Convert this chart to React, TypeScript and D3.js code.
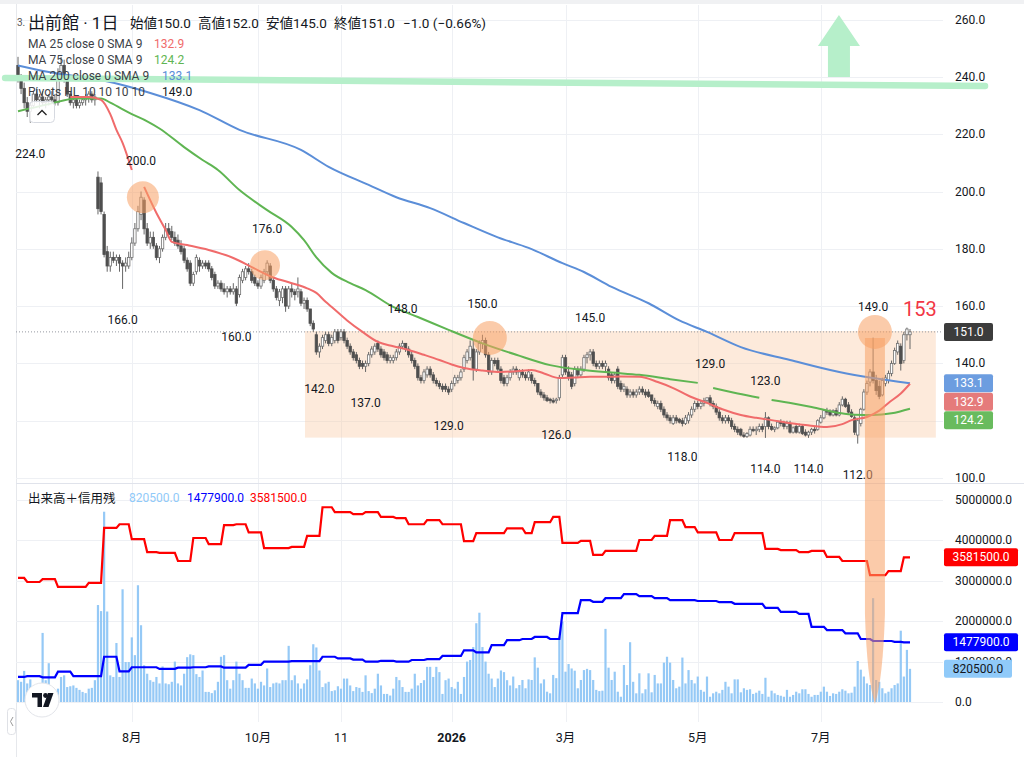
import { useEffect, useRef } from 'react';
import * as d3 from 'd3';

// daily bars: [open, high, low, close]
const candles: number[][] = [
  [244, 247, 238, 240], [240, 241, 234, 236], [236, 238, 229, 231], [231, 233, 226, 228], [228, 231, 224, 230],
  [230, 235, 229, 234], [234, 236, 231, 232], [232, 234, 229, 233], [233, 235, 230, 231], [231, 233, 229, 232],
  [232, 234, 230, 233], [233, 235, 231, 232], [232, 234, 230, 231], [231, 243, 230, 241], [241, 247, 239, 244],
  [244, 246, 238, 239], [239, 240, 233, 234], [234, 235, 230, 231], [231, 233, 229, 232], [232, 233, 229, 230],
  [230, 232, 229, 231], [231, 233, 230, 232], [232, 234, 230, 233], [233, 235, 231, 234], [234, 235, 231, 232],
  [232, 234, 230, 233], [205, 207, 192, 194], [203, 205, 192, 193], [192, 193, 177, 178], [179, 181, 172, 174],
  // 30
  [174, 179, 172, 177], [177, 179, 175, 176], [176, 178, 174, 177], [177, 178, 172, 175], [175, 176, 166, 174],
  [174, 177, 172, 175], [174, 179, 173, 177], [177, 184, 176, 182], [182, 189, 181, 187], [187, 195, 186, 193],
  [192, 200, 190, 198], [197, 198, 185, 187], [187, 189, 181, 182], [182, 186, 180, 184], [184, 186, 180, 181],
  [181, 182, 176, 177], [177, 181, 175, 180], [180, 185, 179, 184], [184, 189, 183, 187], [187, 189, 184, 185],
  [186, 188, 183, 184], [184, 186, 181, 182], [183, 185, 180, 181], [181, 183, 178, 179], [180, 181, 175, 176],
  [176, 177, 172, 173], [175, 176, 167, 168], [168, 172, 167, 171], [172, 178, 171, 177], [176, 177, 172, 174],
  // 60
  [174, 176, 173, 175], [175, 176, 173, 174], [175, 176, 172, 173], [173, 174, 169, 170], [171, 172, 166, 167],
  [167, 169, 166, 168], [168, 169, 165, 166], [166, 168, 164, 165], [165, 167, 163, 166], [166, 167, 164, 165],
  [165, 168, 164, 166], [166, 167, 160, 161], [164, 171, 163, 170], [169, 173, 168, 172], [170, 174, 169, 173],
  [173, 175, 171, 172], [172, 173, 168, 169], [170, 171, 167, 168], [168, 169, 166, 167], [167, 171, 166, 170],
  [169, 173, 168, 172], [172, 176, 171, 175], [174, 175, 168, 169], [169, 170, 165, 166], [166, 167, 162, 163],
  [162, 166, 160, 165], [163, 167, 161, 166], [166, 167, 158, 160], [160, 167, 159, 166], [166, 168, 163, 165],
  // 90
  [165, 166, 162, 164], [165, 170, 163, 166], [165, 166, 160, 161], [161, 163, 159, 162], [162, 163, 158, 159],
  [159, 159, 153, 154], [154, 155, 151, 152], [150, 151, 143, 144], [144, 147, 142, 146], [146, 150, 145, 149],
  [148, 151, 147, 150], [150, 151, 146, 147], [147, 150, 146, 149], [148, 152, 147, 151], [151, 152, 147, 148],
  [149, 152, 148, 151], [151, 152, 147, 148], [148, 149, 145, 146], [146, 147, 143, 144], [144, 145, 141, 142],
  [143, 144, 140, 141], [141, 142, 138, 139], [140, 141, 138, 139], [139, 141, 137, 140], [140, 144, 139, 143],
  [143, 146, 142, 145], [144, 147, 143, 146], [147, 148, 144, 145], [145, 146, 142, 143], [144, 145, 141, 142],
  // 120
  [143, 144, 140, 141], [141, 143, 140, 142], [141, 143, 140, 142], [142, 145, 141, 144], [144, 147, 143, 146],
  [146, 148, 145, 147], [147, 147, 144, 145], [145, 146, 142, 143], [143, 144, 140, 141], [141, 142, 138, 139],
  [139, 140, 134, 135], [135, 136, 133, 134], [134, 138, 133, 137], [136, 139, 135, 138], [138, 139, 135, 136],
  [136, 137, 133, 134], [134, 135, 132, 133], [133, 134, 131, 132], [132, 133, 130, 131], [132, 133, 130, 131],
  [131, 132, 129, 130], [131, 134, 130, 133], [133, 136, 132, 135], [134, 136, 133, 135], [135, 138, 134, 137],
  [138, 143, 137, 142], [141, 145, 140, 144], [142, 148, 141, 146], [145, 148, 134, 138], [138, 145, 137, 144],
  // 150
  [144, 148, 143, 147], [147, 150, 145, 148], [148, 149, 142, 143], [143, 144, 136, 137], [137, 142, 136, 141],
  [141, 142, 139, 140], [141, 142, 137, 138], [138, 139, 133, 134], [135, 136, 132, 133], [133, 136, 132, 135],
  [135, 138, 134, 137], [137, 139, 136, 138], [138, 139, 136, 137], [135, 138, 134, 137], [137, 138, 135, 136],
  [136, 137, 134, 135], [135, 138, 134, 137], [136, 137, 133, 134], [134, 135, 132, 133], [133, 133, 129, 130],
  [130, 131, 128, 129], [129, 130, 127, 128], [128, 129, 126.5, 127], [127.5, 128, 126, 127], [127, 128, 126, 126.5],
  [127, 128, 126, 127.5], [128, 136, 127, 135], [136, 143, 135, 142], [142, 143, 136, 137], [137, 139, 134, 135],
  // 180
  [136, 137, 131, 132], [133, 139, 132, 138], [138, 139, 135, 136], [136, 139, 135, 138], [138, 143, 137, 142],
  [142, 144, 140, 143], [143, 145, 141, 144], [144, 145, 139, 140], [140, 141, 138, 139], [139, 141, 138, 140],
  [140, 141, 138, 139], [139, 141, 137, 140], [138, 139, 134, 135], [136, 137, 133, 134], [134, 137, 133, 136],
  [138, 139, 131, 132], [133, 134, 130, 131], [131, 133, 130, 132], [131, 132, 128, 129], [129, 131, 128, 130],
  [130, 131, 128, 129], [129, 131, 128, 130], [130, 132, 129, 131], [131, 132, 129, 130], [130, 131, 128, 129],
  [130, 131, 128, 128.5], [129, 129, 126, 127], [127, 128, 125, 126], [125, 127, 124, 126], [126, 127, 123, 124],
  // 210
  [124, 125, 121, 122], [122, 123, 120, 121], [121, 122, 119, 120], [119, 122, 118.5, 121], [121, 122, 119, 120],
  [120.5, 121, 119, 119.5], [120, 121, 118, 119], [119, 122, 118.5, 121], [120, 123, 119, 122], [122, 125, 121, 124],
  [124, 127, 123, 126], [126, 127, 124, 125], [125, 127, 124, 126], [126, 128, 125, 127], [127, 128, 126, 128],
  [128, 129, 125, 126], [126, 127, 124, 125], [125, 126, 122, 123], [123, 124, 120, 121], [121, 122, 119, 120],
  [120, 122, 119, 121], [121, 122, 119, 120], [120, 121, 117, 118], [118, 119, 116, 117], [117, 118, 115, 116],
  [117, 117.5, 114.5, 115], [115, 116, 114, 114.5], [114.5, 116, 114, 115.5], [115, 118, 114.5, 117], [117, 118, 116, 116.5],
  // 240
  [116.5, 118, 115, 117], [117, 119, 116, 118], [118, 119, 116, 117], [118, 123, 114, 121], [121, 121.5, 117, 118],
  [118, 119, 116.5, 117], [117, 118, 116, 117.5], [117.5, 120, 117, 119.5], [119.5, 120.5, 118, 119], [119, 120, 117, 118],
  [118, 120, 117, 119], [119, 120, 115.5, 116], [116, 118, 115.5, 117.5], [118, 119, 115.5, 116], [116, 119, 115.5, 118],
  [118, 118.5, 115, 115.5], [116, 117, 114.5, 115], [115, 116.5, 114, 116], [116, 117.5, 115, 117], [117, 118, 115.5, 116.5],
  [117, 120.5, 116.5, 120], [119.5, 122, 119, 121], [121, 124, 120.5, 123.5], [123.5, 124.5, 122, 123], [123, 124, 121.5, 122],
  [122, 124, 121.5, 123.5], [123.5, 124.5, 121.5, 122], [122, 126.5, 121.5, 125.5], [125.5, 128.5, 125, 127.5], [127.5, 128, 124.5, 125],
  // 270
  [125.5, 126.5, 122.5, 123], [123, 124, 121, 121.5], [121, 122, 115, 116], [115, 121, 112, 120], [119, 124.5, 118, 124],
  [124, 131, 123.5, 130], [130, 134, 129, 133], [133.5, 138, 132, 137], [137, 149, 133, 134], [134, 136, 129, 130.5],
  [132, 134, 127.5, 128.5], [129, 135, 128.5, 134], [133, 136, 132, 135], [134, 137.5, 133, 136.5], [136.5, 141, 135.5, 140],
  [140, 145.5, 139.5, 144.5], [144, 148, 143, 147], [146, 147, 137.5, 140], [141, 151, 140, 150], [150, 152.5, 148, 152],
  [150, 152, 145, 151],
];

// daily volume, thousand shares
const volumes = [
  540, 500, 770, 460, 560, 370, 330, 370, 1710, 540,
  960, 290, 200, 330, 620, 660, 370, 390, 410, 350,
  300, 250, 220, 330, 350, 540, 2400, 2250, 4710, 2240,
  660, 620, 1460, 620, 2790, 990, 990, 1600, 1160, 2890,
  1900, 910, 700, 540, 500, 620, 460, 880, 460, 440,
  500, 1000, 460, 410, 700, 1110, 1180, 1160, 690, 620,
  780, 250, 250, 220, 290, 500, 1120, 1160, 540, 330,
  540, 1000, 700, 540, 350, 350, 580, 460, 330, 500,
  410, 830, 370, 460, 480, 460, 540, 540, 1390, 540,
  660, 460, 330, 460, 560, 910, 1430, 1350, 780, 370,
  460, 500, 270, 290, 390, 330, 580, 580, 410, 270,
  370, 350, 250, 660, 270, 220, 330, 700, 410, 200,
  200, 160, 330, 620, 540, 370, 250, 250, 330, 700,
  410, 470, 540, 870, 870, 620, 870, 740, 200, 540,
  580, 370, 330, 500, 200, 620, 1000, 1040, 1360, 1950,
  2210, 1360, 1000, 700, 580, 370, 580, 780, 740, 540,
  410, 630, 340, 420, 545, 340, 560, 545, 1105, 850,
  460, 560, 255, 215, 670, 590, 1620, 1990, 750, 940,
  830, 775, 340, 545, 790, 820, 790, 545, 300, 270,
  280, 1810, 850, 545, 750, 255, 130, 915, 420, 1480,
  500, 215, 710, 215, 315, 710, 240, 670, 460, 460,
  975, 1120, 975, 545, 340, 380, 1100, 460, 790, 545,
  460, 630, 300, 255, 630, 130, 215, 255, 215, 300,
  500, 380, 215, 560, 560, 240, 340, 300, 315, 200,
  230, 280, 200, 600, 130, 280, 215, 175, 155, 130,
  300, 130, 175, 255, 215, 315, 315, 200, 130, 175,
  175, 255, 380, 255, 150, 215, 200, 255, 315, 280,
  215, 230, 380, 1015, 800, 630, 460, 420, 2570, 545,
  500, 340, 215, 255, 340, 420, 460, 1765, 630, 1290,
  820.5,
];

// margin balances, weekly updates: [bar where the value starts, thousand shares]
const marginBuy: [number, number][] = [
  [0, 3070], [3, 2970], [8, 3040], [13, 2850], [23, 2950], [28, 4310], [33, 4400], [37, 4030], [42, 3710],
  [46, 3690], [52, 3490], [57, 4060], [62, 3910], [67, 4380], [71, 4400], [75, 4200], [80, 3810], [89, 3840],
  [94, 4110], [99, 4820], [103, 4700], [109, 4650], [113, 4700], [118, 4580], [123, 4550], [127, 4400],
  [133, 4500], [138, 4400], [145, 3980], [149, 4180], [159, 4300], [165, 4180], [168, 4450], [174, 4580],
  [177, 3940], [183, 3990], [187, 3640], [191, 3740], [202, 4010], [207, 4110], [212, 4500], [217, 4330],
  [221, 4200], [228, 4010], [233, 4180], [243, 3790], [248, 3760], [254, 3710], [258, 3740], [263, 3590],
  [268, 3490], [277, 3140], [283, 3240], [288, 3581.5],
];
const marginSell: [number, number][] = [
  [0, 620], [3, 640], [8, 610], [13, 750], [18, 640], [28, 1120], [33, 760], [37, 860], [46, 820], [52, 850],
  [57, 860], [62, 880], [67, 850], [75, 920], [80, 1000], [89, 1010], [99, 1120], [104, 1080], [109, 1050],
  [113, 1000], [118, 1020], [123, 1000], [128, 1040], [133, 1060], [138, 1140], [145, 1280], [149, 1230],
  [154, 1410], [159, 1530], [164, 1560], [168, 1610], [173, 1560], [177, 2200], [183, 2520], [187, 2480],
  [191, 2570], [197, 2670], [202, 2620], [207, 2570], [212, 2520], [221, 2500], [228, 2470], [233, 2430],
  [243, 2330], [248, 2230], [254, 2180], [258, 1860], [263, 1780], [269, 1700], [274, 1560], [278, 1510],
  [285, 1490], [288, 1477.9],
];

// moving averages: [bar, price], null = gap in the drawn line
const ma25: ([number, number] | null)[] = [
  [17, 233], [23, 233], [27, 232], [30, 227], [32, 221.5], [34, 217], [37, 207.5], null,
  [41, 201.6], [45, 192.5], [48, 186.6], [50, 182.4], [55, 181.3], [62, 179.6], [70, 176.8], [76, 173.6],
  [83, 170], [89, 168], [94, 166.2], [97, 164.6], [100, 161.5], [102, 159.7], [107, 155], [112, 151],
  [117, 147.5], [122, 146], [127, 144.7], [132, 143], [137, 141.2], [141, 139.6], [145, 138.4], [151, 137.5],
  [157, 137], [162, 137.3], [167, 137.7], [171, 136.5], [176, 134.9], [181, 135.1], [186, 135.3], [191, 135.3],
  [196, 135.4], [202, 135.3], [208, 133.5], [213, 131.4], [218, 128.7], [224, 126.2], [229, 124], [235, 122],
  [240, 121], [245, 120.2], [250, 119.3], [256, 118.5], [263, 117.8], [268, 118.8], [271, 120.2], [276, 121.3],
  [280, 123.5], [283, 126.2], [287, 129.5], [290, 132.9],
];
const ma75: ([number, number] | null)[] = [
  [0, 228], [10, 230.5], [19, 232.5], [27, 232.5], [30, 231], [37, 227], [42, 224.5], [46, 222], [54, 215.5],
  [60, 211], [65, 207.5], [72, 200.5], [81, 193.5], [89, 187.6], [93, 183], [97, 177], [102, 171.6], [108, 168],
  [113, 165.6], [122, 159.7], [130, 156.2], [140, 151.7], [151, 147], [162, 143], [173, 139.4], [184, 137.7],
  [193, 136.8], [202, 136], [212, 134.5], [221, 133.2], null, [226, 131.4], [234, 129.5], [241, 128], null,
  [245, 127.2], [252, 126], [258, 124.8], [267, 122.7], [272, 122.1], [278, 122], [284, 122.6], [290, 124.2],
];
const ma200: ([number, number] | null)[] = [
  [0, 244], [10, 241.7], [27, 238.9], [43, 234.4], [59, 228.4], [72, 221.5], [92, 214.5], [101, 208.6],
  [114, 202.3], [123, 198], [134, 194.2], [145, 189], [156, 184], [166, 180.3], [177, 175], [184, 171.9],
  [193, 166.7], [205, 161], [215, 155], [224, 151], [235, 145.7], [251, 141.2], [267, 137], [278, 134.9],
  [290, 133.1],
];

// pivot high / low labels: [bar, price, kind]
const pivots: [number, number, 'H' | 'L'][] = [
  [4, 224, 'L'], [34, 166, 'L'], [40, 200, 'H'], [71, 160, 'L'], [81, 176, 'H'], [98, 142, 'L'],
  [113, 137, 'L'], [125, 148, 'H'], [140, 129, 'L'], [151, 150, 'H'], [175, 126, 'L'], [186, 145, 'H'],
  [216, 118, 'L'], [225, 129, 'H'], [243, 114, 'L'], [243, 123, 'H'], [257, 114, 'L'], [273, 112, 'L'],
  [278, 149, 'H'],
];

const monthTicks: [number, string][] = [
  [37, '8月'], [78, '10月'], [105, '11'], [141, '2026'], [178, '3月'], [221, '5月'], [261, '7月'],
];
const priceTicks = [100, 120, 140, 160, 180, 200, 220, 240, 260];
const volumeTicks = [0, 1000, 2000, 3000, 4000, 5000];

// drawings on the chart (bar / price anchors)
const zone = { fromBar: 93.3, toBar: 298.4, top: 151.3, bottom: 114.1 };
const highlights: [number, number, number][] = [[40.6, 198, 16], [80.3, 174.3, 15], [153.4, 148.9, 17], [278.6, 151, 17]];
const resistance: [number, number][] = [[-4.2, 239.6], [314.4, 236.8]];
const upArrow = { bar: 266.9, tip: 261.6, base: 240 };

export default function App() {
  const svgRef = useRef<SVGSVGElement>(null);

  useEffect(() => {
    if (!svgRef.current) return;
    const svg = d3.select(svgRef.current);
    svg.selectAll('*').remove();

    const W = 1024, H = 757;
    const font = "Roboto, 'Noto Sans CJK JP', 'Noto Sans', sans-serif";
    const ink = '#131722';
    const left = 16, right = 943;
    const colors = {
      red: '#f06b6b', green: '#5fb552', blue: '#5b8ed8',
      redTag: '#e57b7b', greenTag: '#69bb5e', blueTag: '#6c9de0',
      up: '#ffffff', down: '#4f4f4f', wick: '#666',
      vol: '#95c9f6', orange: 'rgba(247,160,100,0.55)', zone: 'rgba(251,200,160,0.38)',
      mint: '#b6efca',
    };

    const x = d3.scaleLinear().domain([0, candles.length - 1]).range([18, 910]);
    const y = d3.scaleLinear().domain([100, 260]).range([478, 19.6]);
    const yv = d3.scaleLinear().domain([0, 5000]).range([702, 500]);

    const label = (g: any, tx: number, ty: number, s: string, size: number, fill: string, anchor = 'start', weight = 'normal') =>
      g.append('text')
        .attr('x', tx).attr('y', ty)
        .attr('font-size', size).attr('fill', fill)
        .attr('text-anchor', anchor).attr('dominant-baseline', 'central')
        .attr('font-weight', weight).attr('font-family', font)
        .text(s);

    svg.append('rect').attr('width', W).attr('height', H).attr('fill', '#fff');
    svg.append('rect').attr('width', W).attr('height', 4).attr('fill', '#f0f1f3');
    svg.append('line').attr('x1', left + 0.5).attr('x2', left + 0.5).attr('y1', 4).attr('y2', H).attr('stroke', '#e6e8ec');

    // grid
    const grid = svg.append('g').attr('stroke', '#eef0f4').attr('stroke-width', 1);
    monthTicks.forEach(([b]) => {
      const gx = Math.round(x(b)) + 0.5;
      grid.append('line').attr('x1', gx).attr('x2', gx).attr('y1', 5).attr('y2', 722);
    });
    priceTicks.forEach(p => {
      const gy = Math.round(y(p)) + 0.5;
      grid.append('line').attr('x1', left).attr('x2', right).attr('y1', gy).attr('y2', gy);
    });
    volumeTicks.forEach(v => {
      const gy = Math.round(yv(v)) + 0.5;
      grid.append('line').attr('x1', left).attr('x2', right).attr('y1', gy).attr('y2', gy);
    });
    svg.append('line').attr('x1', left).attr('x2', W).attr('y1', 483.5).attr('y2', 483.5).attr('stroke', '#e0e3eb');

    // box zone
    svg.append('rect')
      .attr('x', x(zone.fromBar)).attr('y', y(zone.top))
      .attr('width', x(zone.toBar) - x(zone.fromBar)).attr('height', y(zone.bottom) - y(zone.top))
      .attr('fill', colors.zone);

    // volume
    svg.append('g').selectAll('rect')
      .data(volumes)
      .enter().append('rect')
      .attr('x', (_: number, i: number) => x(i) - 1.1)
      .attr('width', 2.2)
      .attr('y', (d: number) => yv(d))
      .attr('height', (d: number) => yv(0) - yv(d))
      .attr('fill', colors.vol);

    const expand = (pts: [number, number][]) => candles.map((_, i) => {
      let v = pts[0][1];
      pts.forEach(([b, val]) => { if (b <= i) v = val; });
      return v;
    });
    const stepLine = d3.line<number>().x((_, i) => x(i)).y(d => yv(d));
    svg.append('path').datum(expand(marginSell)).attr('d', stepLine)
      .attr('fill', 'none').attr('stroke', '#0000ff').attr('stroke-width', 2.2);
    svg.append('path').datum(expand(marginBuy)).attr('d', stepLine)
      .attr('fill', 'none').attr('stroke', '#ff0000').attr('stroke-width', 2.2);

    // last price line
    const lastClose = candles[candles.length - 1][3];
    svg.append('line')
      .attr('x1', left).attr('x2', right)
      .attr('y1', y(lastClose)).attr('y2', y(lastClose))
      .attr('stroke', '#9598a1').attr('stroke-dasharray', '1,2');

    // candles
    const cg = svg.append('g');
    candles.forEach(([o, h, l, c], i) => {
      const cx = x(i);
      cg.append('line')
        .attr('x1', cx).attr('x2', cx).attr('y1', y(h)).attr('y2', y(l))
        .attr('stroke', colors.wick).attr('stroke-width', 1);
      const top = y(Math.max(o, c));
      const hgt = Math.max(1, Math.abs(y(o) - y(c)));
      const up = c >= o;
      cg.append('rect')
        .attr('x', cx - 1.2).attr('y', top).attr('width', 2.4).attr('height', hgt)
        .attr('fill', up ? colors.up : colors.down)
        .attr('stroke', up ? '#707070' : colors.down).attr('stroke-width', 0.8);
    });

    // moving averages
    const maLine = d3.line<[number, number] | null>()
      .defined(d => d !== null)
      .x(d => x(d![0]))
      .y(d => y(d![1]))
      .curve(d3.curveMonotoneX);
    [[ma200, colors.blue], [ma75, colors.green], [ma25, colors.red]].forEach(([data, col]: any) => {
      svg.append('path').datum(data).attr('d', maLine)
        .attr('fill', 'none').attr('stroke', col).attr('stroke-width', 2).attr('stroke-linejoin', 'round');
    });

    // pivot labels
    pivots.forEach(([b, p, k]) => {
      label(svg, x(b), k === 'H' ? y(p) - 31 : y(p) + 31, p.toFixed(1), 12, ink, 'middle');
    });

    // highlight circles and the tall marker down to the volume pane
    highlights.forEach(([b, p, r]) => {
      svg.append('circle').attr('cx', x(b)).attr('cy', y(p)).attr('r', r).attr('fill', colors.orange);
    });
    const ax = x(highlights[3][0]);
    const aTop = y(highlights[3][1]) + 6;
    const aBot = yv(0) + 2;
    svg.append('path')
      .attr('d', `M${ax - 10},${aTop} L${ax + 10},${aTop} L${ax + 10},${aBot - 90} Q${ax + 8},${aBot - 25} ${ax},${aBot} Q${ax - 8},${aBot - 25} ${ax - 10},${aBot - 90} Z`)
      .attr('fill', colors.orange);

    // resistance line and up arrow
    svg.append('line')
      .attr('x1', x(resistance[0][0])).attr('y1', y(resistance[0][1]))
      .attr('x2', x(resistance[1][0])).attr('y2', y(resistance[1][1]))
      .attr('stroke', colors.mint).attr('stroke-width', 6.5).attr('stroke-linecap', 'round');
    const tx = x(upArrow.bar), tTip = y(upArrow.tip), tBase = y(upArrow.base);
    const headH = (tBase - tTip) * 0.5;
    svg.append('path')
      .attr('d', `M${tx},${tTip} L${tx + 21},${tTip + headH} L${tx + 11},${tTip + headH} L${tx + 11},${tBase} L${tx - 11},${tBase} L${tx - 11},${tTip + headH} L${tx - 21},${tTip + headH} Z`)
      .attr('fill', colors.mint);

    // header legend
    label(svg, 17, 22, '3.', 10, '#555');
    label(svg, 28, 23, '出前館 · 1日', 17, ink);
    const [lo, lh, ll, lc] = candles[candles.length - 1];
    const prevClose = candles[candles.length - 2][3];
    const chg = lc - prevClose;
    label(svg, 130, 23, `始値${lo.toFixed(1)}`, 13.5, ink);
    label(svg, 198, 23, `高値${lh.toFixed(1)}`, 13.5, ink);
    label(svg, 266, 23, `安値${ll.toFixed(1)}`, 13.5, ink);
    label(svg, 334, 23, `終値${lc.toFixed(1)}`, 13.5, ink);
    label(svg, 403, 23, `−${Math.abs(chg).toFixed(1)} (−${(Math.abs(chg) / prevClose * 100).toFixed(2)}%)`, 13.5, ink);

    const last = (arr: ([number, number] | null)[]) => arr[arr.length - 1]![1];
    const rows: [string, string, string, number][] = [
      ['MA 25 close 0 SMA 9', last(ma25).toFixed(1), colors.red, 154],
      ['MA 75 close 0 SMA 9', last(ma75).toFixed(1), colors.green, 154],
      ['MA 200 close 0 SMA 9', last(ma200).toFixed(1), colors.blue, 162],
      ['Pivots HL 10 10 10 10', pivots[pivots.length - 1][1].toFixed(1), ink, 162],
    ];
    rows.forEach(([t, v, col, vx], i) => {
      label(svg, 28, 44 + i * 16, t, 12, '#3c3f47');
      label(svg, vx, 44 + i * 16, v, 12, col);
    });

    // collapse button
    svg.append('rect').attr('x', 29.5).attr('y', 101.5).attr('width', 25).attr('height', 21).attr('rx', 4)
      .attr('fill', 'rgba(255,255,255,0.85)').attr('stroke', '#d6d9e0');
    svg.append('path').attr('d', 'M37.5,115 L42,110.5 L46.5,115').attr('fill', 'none').attr('stroke', '#222').attr('stroke-width', 1.3);

    // volume legend
    label(svg, 28, 498, '出来高＋信用残', 12.5, ink);
    label(svg, 129, 498, `${(volumes[volumes.length - 1] * 1000).toFixed(1)}`, 12, '#90caf9');
    label(svg, 187, 498, `${(marginSell[marginSell.length - 1][1] * 1000).toFixed(1)}`, 12, '#0000ff');
    label(svg, 250, 498, `${(marginBuy[marginBuy.length - 1][1] * 1000).toFixed(1)}`, 12, '#ff0000');

    // right price axis
    priceTicks.forEach(p => label(svg, 955, y(p), p.toFixed(1), 12, ink));
    volumeTicks.forEach(v => label(svg, 955, yv(v), (v * 1000).toFixed(1), 12, ink));

    const tag = (ty: number, s: string, bg: string, fg: string, w: number) => {
      svg.append('rect').attr('x', 944).attr('y', ty - 9).attr('width', w).attr('height', 18).attr('rx', 2).attr('fill', bg);
      label(svg, 944 + w / 2, ty, s, 12, fg, 'middle');
    };

    // MA tags, stacked downward so they do not cover each other
    const maTags: [number, string][] = [
      [last(ma200), colors.blueTag], [last(ma25), colors.redTag], [last(ma75), colors.greenTag],
    ];
    let prevY = -Infinity;
    maTags
      .map(([v, col]) => ({ v, col, ty: y(v) }))
      .sort((a, b) => a.ty - b.ty)
      .forEach(t => {
        const ty = Math.max(t.ty, prevY + 18.5);
        prevY = ty;
        tag(ty, t.v.toFixed(1), t.col, '#fff', 49);
      });
    tag(y(lastClose), lastClose.toFixed(1), '#3c3c3c', '#fff', 49);
    tag(yv(marginBuy[marginBuy.length - 1][1]), (marginBuy[marginBuy.length - 1][1] * 1000).toFixed(1), '#ff0000', '#fff', 74);
    tag(yv(marginSell[marginSell.length - 1][1]), (marginSell[marginSell.length - 1][1] * 1000).toFixed(1), '#0000ff', '#fff', 74);
    tag(yv(volumes[volumes.length - 1]), (volumes[volumes.length - 1] * 1000).toFixed(1), '#90caf9', ink, 68);

    // target note
    label(svg, 903, 309, '153', 20, '#f23645');

    // time axis
    monthTicks.forEach(([b, t]) => label(svg, x(b), 737, t, 12.5, ink, 'middle', t === '2026' ? 'bold' : 'normal'));

    // logo
    svg.append('circle').attr('cx', 42).attr('cy', 700).attr('r', 17).attr('fill', '#fff').attr('stroke', '#e3e5ea');
    svg.append('path').attr('d', 'M32,693 L42,693 L42,707 L37.5,707 L37.5,697.5 L32,697.5 Z').attr('fill', '#131722');
    svg.append('circle').attr('cx', 45.5).attr('cy', 695.5).attr('r', 2.4).attr('fill', '#131722');
    svg.append('path').attr('d', 'M48,693 L53.5,693 L48.5,707 L43,707 Z').attr('fill', '#131722');

    // scroll button
    svg.append('rect').attr('x', 7.5).attr('y', 708.5).attr('width', 8).attr('height', 26).attr('rx', 3)
      .attr('fill', '#fff').attr('stroke', '#dfe1e6');
    svg.append('path').attr('d', 'M13,717 L10.5,721.5 L13,726').attr('fill', 'none').attr('stroke', '#999').attr('stroke-width', 1);
  }, []);

  return (
    <div style={{ position: 'absolute', left: 0, top: 0 }}>
      <svg ref={svgRef} width={1024} height={757} style={{ display: 'block' }} />
    </div>
  );
}
